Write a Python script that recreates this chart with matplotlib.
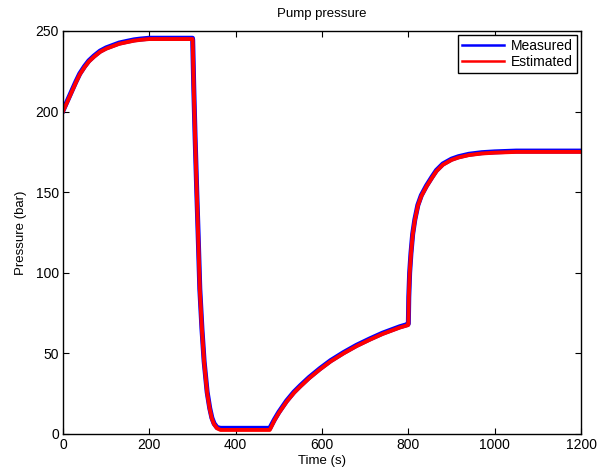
import numpy as np
import matplotlib
matplotlib.use("Agg")
import matplotlib.pyplot as plt
from matplotlib.lines import Line2D

plt.rcParams['font.family'] = ['Liberation Sans', 'DejaVu Sans']

# time (s) and pressure (bar)
time = [0, 10, 20, 30, 39, 50, 60, 72, 86, 100, 115, 130, 147, 165, 180, 200, 225, 260, 300,
        300.5, 303, 306, 310, 313, 317, 322, 327, 334, 340, 345, 350, 357, 365, 400, 440, 479,
        490, 500, 518, 535, 550, 570, 595, 620, 650, 680, 711, 740, 760, 780, 799,
        800, 801, 803, 806, 810, 815, 822, 830, 842, 855, 865, 880, 900, 916, 940, 970,
        1000, 1050, 1100, 1150, 1200]
measured = [200.5, 206.5, 212.5, 218.5, 223.5, 228, 231.5, 234.5, 237.5, 239.5, 241, 242.5,
            243.5, 244.5, 245, 245.5, 245.5, 245.5, 245.5,
            244.5, 215, 185, 150, 125, 90, 65, 45, 26, 16, 10, 6.5, 4, 3.5, 3.5, 3.5, 3.5,
            9, 13.5, 20.5, 26, 30, 35, 40.5, 45.5, 50.5, 55, 59, 62.5, 64.5, 66.5, 68,
            68.5, 85, 100, 112, 124, 133, 142, 148, 154, 159.5, 163.5, 167.5, 170.5, 172, 173.5,
            174.5, 175, 175.5, 175.5, 175.5, 175.5]
estimated = [200, 206, 212, 218, 223, 227.5, 231, 234, 237, 239, 240.5, 242, 243, 244, 244.5,
             245, 245, 245, 245,
             244, 214.5, 184.5, 149.5, 124.5, 89.5, 64.5, 44.5, 25.5, 15.5, 9.5, 6, 3.5, 2.5,
             2.5, 2.5, 2.5,
             8.5, 13, 20, 25.5, 29.5, 34.5, 40, 45, 50, 54.5, 58.5, 62, 64, 66, 67.5,
             68, 84.5, 99.5, 111.5, 123.5, 132.5, 141.5, 147.5, 153.5, 159, 163, 167, 170,
             171.5, 173, 174, 174.5, 175, 175, 175, 175]

fig = plt.figure(figsize=(6.11, 4.73), dpi=100)
ax = fig.add_axes([0.103, 0.0825, 0.848, 0.852])

ax.plot(time, measured, color='#0000ff', lw=3.6, solid_joinstyle='round')
ax.plot(time, estimated, color='#ff0000', lw=2.8, solid_joinstyle='round')

ax.set_xlim(0, 1200)
ax.set_ylim(0, 250)
ax.set_xticks(np.arange(0, 1201, 200))
ax.set_yticks(np.arange(0, 251, 50))
ax.tick_params(direction='in', top=True, right=True, length=4, labelsize=10, width=0.8, pad=3)
for s in ax.spines.values():
    s.set_linewidth(1.0)

ax.set_title('Pump pressure', fontsize=9.5, pad=10)
ax.set_xlabel('Time (s)', fontsize=9.5, labelpad=2)
ax.set_ylabel('Pressure (bar)', fontsize=9.5, labelpad=6)

handles = [Line2D([], [], color='#0000ff', lw=1.8),
           Line2D([], [], color='#ff0000', lw=1.8)]
leg = ax.legend(handles, ['Measured', 'Estimated'], loc='upper right', fontsize=10,
                fancybox=False, framealpha=1, edgecolor='black', handlelength=3.0,
                borderaxespad=0.3, borderpad=0.3, labelspacing=0.1, handletextpad=0.5)
leg.get_frame().set_linewidth(1.0)

fig.savefig('out.png', dpi=100)
